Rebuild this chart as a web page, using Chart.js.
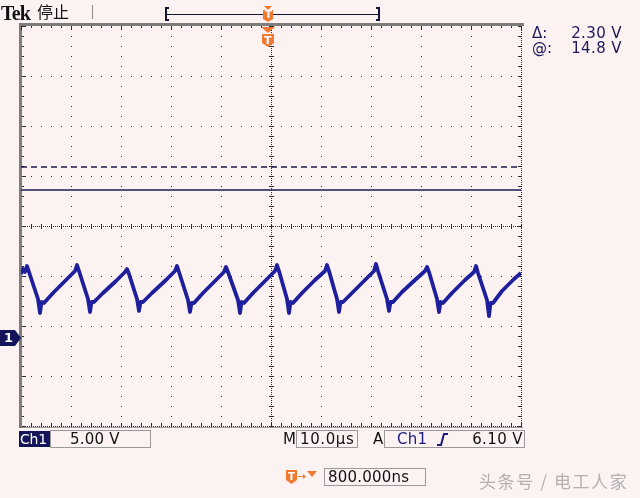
<!DOCTYPE html>
<html><head><meta charset="utf-8">
<script src="https://cdn.jsdelivr.net/npm/chart.js@4/dist/chart.umd.min.js"></script>
<style>
html,body{margin:0;padding:0;background:#fdf2f2;overflow:hidden;width:640px;height:498px}
#wrap{position:relative;width:640px;height:498px}
canvas{position:absolute;left:0;top:0}
.t{position:absolute;white-space:nowrap;font-family:"DejaVu Sans",sans-serif;font-size:15px;line-height:15px;color:#111}
.box{position:absolute;border:1px solid #9a9a9a;box-sizing:border-box}
</style>
</head><body>
<div id="wrap">
<canvas id="c" width="640" height="498"></canvas>
<div class="t" style="left:1px;top:3px;font-family:'Liberation Serif',serif;font-weight:bold;font-size:20px;line-height:20px;letter-spacing:-0.8px">Tek</div>
<div class="t" style="left:37px;top:2px;font-family:'Noto Sans CJK SC',sans-serif;font-size:16px;line-height:19px">停止</div>
<div class="t" style="left:532px;top:26px;color:#1a1a5a">Δ:</div>
<div class="t" style="right:18px;top:26px;color:#1a1a5a;letter-spacing:0.4px">2.30 V</div>
<div class="t" style="left:532px;top:41px;color:#1a1a5a">@:</div>
<div class="t" style="right:18px;top:41px;color:#1a1a5a;letter-spacing:0.4px">14.8 V</div>
<div style="position:absolute;left:19px;top:431px;width:31px;height:16px;background:#14145a"></div>
<div class="t" style="left:20px;top:432px;color:#fff;font-size:14px;line-height:15px;letter-spacing:-0.2px">Ch1</div>
<div class="box" style="left:50px;top:430px;width:101px;height:18px"></div>
<div class="t" style="left:70px;top:432px;letter-spacing:0.2px">5.00 V</div>
<div class="t" style="left:283px;top:432px">M</div>
<div class="box" style="left:296px;top:430px;width:62px;height:18px"></div>
<div class="t" style="left:300px;top:432px;letter-spacing:0.6px">10.0µs</div>
<div class="t" style="left:373px;top:432px">A</div>
<div class="box" style="left:384px;top:430px;width:141px;height:18px"></div>
<div class="t" style="left:397px;top:432px;color:#1a1a80;letter-spacing:0.3px">Ch1</div>
<div class="t" style="right:117px;top:432px;letter-spacing:0.4px">6.10 V</div>
<div class="box" style="left:324px;top:468px;width:102px;height:18px"></div>
<div class="t" style="left:328px;top:470px;letter-spacing:0.2px">800.000ns</div>
<div class="t" style="left:479px;top:471px;font-family:'Noto Sans CJK SC',sans-serif;font-size:17px;line-height:20px;letter-spacing:1.6px;color:#b4b0b0">头条号 / 电工人家</div>
<div class="t" id="gnd" style="left:4px;color:#fff;font-weight:bold;font-size:13px;line-height:13px">1</div>
<div class="t" id="trigT1" style="color:#fff;font-weight:bold;font-size:10px;line-height:10px">T</div>
<div class="t" id="trigT2" style="color:#fff;font-weight:bold;font-size:11px;line-height:11px">T</div>
<div class="t" style="left:288px;top:472px;color:#fff;font-weight:bold;font-size:10px;line-height:10px">T</div>
</div>
<script>
// ---- Data (time in µs relative to screen centre, Ch1 in volts) ----
const timeUs = [
 -50.0,-49.6,-49.2,
 -48.8,-48.4,-46.6,-46.2,-45.9,-45.4,-43.6,-41.0,-39.2,
 -38.8,-38.4,-36.6,-36.2,-35.9,-35.4,-33.6,-31.0,-29.2,
 -28.8,-28.4,-26.8,-26.4,-26.1,-25.6,-23.8,-21.0,-19.2,
 -18.8,-18.4,-16.6,-16.2,-15.9,-15.4,-13.6,-11.0,-9.4,
 -9.0,-8.6,-6.6,-6.2,-5.9,-5.4,-3.6,-1.0,0.8,
 1.2,1.6,3.2,3.6,3.9,4.4,6.2,8.8,10.8,
 11.2,11.6,13.2,13.6,13.9,14.4,16.2,18.8,20.6,
 21.0,21.4,23.2,23.6,23.9,24.4,26.2,28.8,30.8,
 31.2,31.6,33.2,33.6,33.9,34.4,36.2,38.8,40.6,
 41.0,41.4,43.2,43.6,43.9,44.4,46.2,48.6,50.0
];
const ch1Volts = [
 6.4,6.9,6.6,
 7.2,6.6,3.9,2.5,3.6,3.5,4.5,5.8,6.7,
 7.3,6.7,3.9,2.6,3.6,3.6,4.5,5.7,6.6,
 6.9,6.4,3.9,2.7,3.6,3.6,4.5,5.8,6.7,
 7.2,6.6,3.8,2.6,3.5,3.5,4.5,5.8,6.6,
 7.1,6.6,3.8,2.5,3.6,3.5,4.5,5.8,6.7,
 7.3,6.7,3.9,2.5,3.6,3.5,4.5,5.8,6.7,
 7.3,6.7,3.9,2.6,3.6,3.6,4.5,5.8,6.7,
 7.4,6.7,3.9,2.7,3.6,3.6,4.6,5.8,6.7,
 7.1,6.6,3.9,2.6,3.6,3.5,4.5,5.8,6.6,
 7.2,6.5,3.8,2.2,3.5,3.5,4.7,5.9,6.5
];
const cursorVolts = [17.1, 14.8];          // dashed (Δ top), solid (@ 14.8 V)
const xGridUs = [-50,-40,-30,-20,-10,0,10,20,30,40,50];
const yGridVolts = [31.2,26.2,21.2,16.2,11.2,6.2,1.2,-3.8,-8.8];
const groundVolts = 0;
const triggerUs = -0.8;

const ORANGE = '#f07a32', NAVY = '#14145a';

const graticule = {
  id:'graticule',
  beforeDatasetsDraw(chart){
    const {ctx, scales:{x,y}} = chart;
    const xs = xGridUs.map(v=>Math.round(x.getPixelForValue(v)));
    const ys = yGridVolts.map(v=>Math.round(y.getPixelForValue(v)));
    const L = xs[0], R = xs[xs.length-1], T = ys[0], B = ys[ys.length-1];
    const cx = xs[5], cy = ys[4];
    ctx.save();
    ctx.fillStyle = '#2b2b2b';
    for (const px of xs.slice(1,-1)) for (let py=T; py<=B; py+=10) ctx.fillRect(px,py,1,1);
    for (const py of ys.slice(1,-1)) for (let px=L; px<=R; px+=10) ctx.fillRect(px,py,1,1);
    for (let py=T; py<=B; py+=2) ctx.fillRect(cx,py,1,1);
    for (let px=L; px<=R; px+=2) ctx.fillRect(px,cy,1,1);
    for (let py=T; py<=B; py+=10) ctx.fillRect(cx-2,py,5,1);
    for (let px=L; px<=R; px+=10) ctx.fillRect(px,cy-2,1,5);
    for (let py=T; py<=B; py+=2) ctx.fillRect(R,py,1,1);
    for (let py=T; py<=B; py+=10) ctx.fillRect(R-3,py,3,1);
    ctx.fillStyle = '#9a9a9a';
    ctx.fillRect(L-1,B+1,R-L+3,1);
    ctx.fillStyle = '#2b2b2b';
    for (let px=L; px<=R; px+=2) ctx.fillRect(px,B,1,1);
    for (let px=L; px<=R; px+=10) ctx.fillRect(px,B-3,1,3);
    ctx.fillStyle = '#7d7d7d';
    ctx.fillRect(L-2,T-3,3,B-T+5);
    ctx.fillRect(L-2,T-3,R-L+5,3);
    ctx.fillStyle = '#2b2b2b';
    for (let py=T; py<=B; py+=10) ctx.fillRect(L+1,py,2,1);
    for (let px=L; px<=R; px+=10) ctx.fillRect(px,T,1,2);
    for (const py of ys) ctx.fillRect(L+1,py,4,1);
    for (const px of xs) ctx.fillRect(px,T,1,4);
    ctx.restore();
  },
  afterDraw(chart){
    const {ctx, scales:{x,y}} = chart;
    ctx.save();
    const gy = Math.round(y.getPixelForValue(groundVolts));
    ctx.fillStyle = NAVY;
    ctx.beginPath();
    ctx.moveTo(0,gy-8); ctx.lineTo(15,gy-8); ctx.lineTo(21,gy); ctx.lineTo(15,gy+8); ctx.lineTo(0,gy+8); ctx.closePath(); ctx.fill();
    const g = document.getElementById('gnd'); g.style.top = (gy-7)+'px';
    const tx = Math.round(x.getPixelForValue(triggerUs)) + 1;
    ctx.fillStyle = ORANGE;
    ctx.beginPath(); ctx.moveTo(tx-7,27); ctx.lineTo(tx+7,27); ctx.lineTo(tx,33); ctx.closePath(); ctx.fill();
    ctx.beginPath();
    ctx.moveTo(tx-6,34); ctx.lineTo(tx+6,34); ctx.lineTo(tx+6,43); ctx.lineTo(tx,47); ctx.lineTo(tx-6,43); ctx.closePath(); ctx.fill();
    const t2 = document.getElementById('trigT2'); t2.style.left=(tx-4)+'px'; t2.style.top='35px';
    ctx.fillStyle = '#15153a';
    ctx.fillRect(165,7,2,14); ctx.fillRect(165,7,4,2); ctx.fillRect(165,19,4,2);
    ctx.fillRect(378,7,2,14); ctx.fillRect(376,7,4,2); ctx.fillRect(376,19,4,2);
    ctx.fillRect(167,14,211,1);
    ctx.fillStyle = ORANGE;
    ctx.beginPath(); ctx.moveTo(tx-4,6); ctx.lineTo(tx+4,6); ctx.lineTo(tx,10); ctx.closePath(); ctx.fill();
    ctx.beginPath();
    ctx.moveTo(tx-5,10); ctx.lineTo(tx+5,10); ctx.lineTo(tx+5,19); ctx.lineTo(tx,22); ctx.lineTo(tx-5,19); ctx.closePath(); ctx.fill();
    const t1 = document.getElementById('trigT1'); t1.style.left=(tx-3)+'px'; t1.style.top='10px';
    ctx.fillStyle = '#8a8a8a'; ctx.fillRect(92,5,1,14);
    ctx.strokeStyle = '#1a1a80'; ctx.lineWidth = 2;
    ctx.beginPath(); ctx.moveTo(437,445); ctx.lineTo(441,445); ctx.lineTo(444,434); ctx.lineTo(448,434); ctx.stroke();
    ctx.fillStyle = ORANGE;
    ctx.beginPath(); ctx.moveTo(286,470); ctx.lineTo(297,470); ctx.lineTo(297,480); ctx.lineTo(291.5,484); ctx.lineTo(286,480); ctx.closePath(); ctx.fill();
    ctx.fillRect(298,476,6,1);
    ctx.beginPath(); ctx.moveTo(303,474); ctx.lineTo(306,476.5); ctx.lineTo(303,479); ctx.closePath(); ctx.fill();
    ctx.beginPath(); ctx.moveTo(307,471); ctx.lineTo(317,471); ctx.lineTo(312,477); ctx.closePath(); ctx.fill();
    ctx.restore();
  }
};

const xMin = xGridUs[0], xMax = xGridUs[xGridUs.length-1];
new Chart(document.getElementById('c'), {
  type:'line',
  data:{
    datasets:[
      {label:'Ch1', data: timeUs.map((t,i)=>({x:t,y:ch1Volts[i]})), borderColor:'#1e1f9c', borderWidth:3.8, pointRadius:0, tension:0, borderJoinStyle:'round'},
      {label:'cursor Δ', data:[{x:xMin,y:cursorVolts[0]},{x:xMax,y:cursorVolts[0]}], borderColor:'#1b1b50', borderWidth:1.4, borderDash:[6,4], pointRadius:0},
      {label:'cursor @', data:[{x:xMin,y:cursorVolts[1]},{x:xMax,y:cursorVolts[1]}], borderColor:'#1b1b50', borderWidth:1.4, pointRadius:0}
    ]
  },
  options:{
    responsive:false, animation:false, events:[],
    layout:{padding:{left:21,top:26,right:119,bottom:72}},
    plugins:{legend:{display:false}, tooltip:{enabled:false}},
    scales:{
      x:{type:'linear', min:xMin, max:xMax, display:false},
      y:{type:'linear', min:yGridVolts[yGridVolts.length-1], max:yGridVolts[0], display:false}
    }
  },
  plugins:[graticule]
});
</script>
</body></html>
